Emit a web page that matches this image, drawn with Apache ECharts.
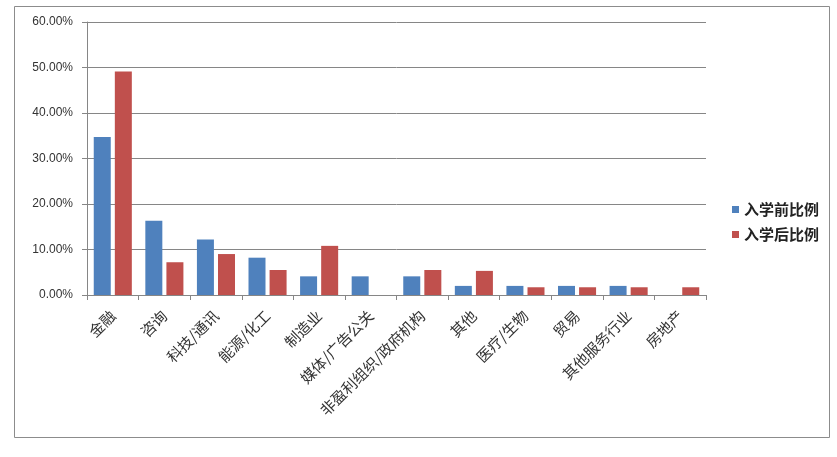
<!DOCTYPE html>
<html><head><meta charset="utf-8">
<script src="https://cdn.jsdelivr.net/npm/echarts@6/dist/echarts.min.js"></script>
<style>html,body{margin:0;padding:0;background:#fff}#c{width:837px;height:457px}</style>
</head><body><div id="c"></div>
<script>
const categories = ['金融','咨询','科技/通讯','能源/化工','制造业','媒体/广告公关','非盈利组织/政府机构','其他','医疗/生物','贸易','其他服务行业','房地产'];
const beforeValues = [34.7, 16.3, 12.2, 8.2, 4.1, 4.1, 4.1, 2.0, 2.0, 2.0, 2.0, 0];
const afterValues = [49.1, 7.2, 9.0, 5.5, 10.8, 0, 5.5, 5.3, 1.7, 1.7, 1.7, 1.7];
const seriesNames = ['入学前比例', '入学后比例'];
const yTicks = [0, 10, 20, 30, 40, 50, 60];

const chart = echarts.init(document.getElementById('c'));
const font = '"Noto Sans CJK SC", sans-serif';
chart.setOption({
  backgroundColor: '#fff',
  animation: false,
  graphic: [{
    type: 'rect', shape: {x: 14.5, y: 6.5, width: 815, height: 431},
    style: {fill: 'none', stroke: '#8c8c8c', lineWidth: 1}, silent: true
  }],
  grid: {left: 87, right: 131, top: 22, bottom: 162, containLabel: false},
  legend: {
    orient: 'vertical', right: 13, top: 197,
    itemWidth: 7, itemHeight: 7, itemGap: 10,
    icon: 'rect',
    textStyle: {fontFamily: font, fontSize: 15, fontWeight: 'bold', color: '#222'},
    data: seriesNames
  },
  xAxis: {
    type: 'category', data: categories,
    axisLine: {lineStyle: {color: '#868686'}},
    axisTick: {show: true, alignWithLabel: false, length: 5, lineStyle: {color: '#868686'}},
    axisLabel: {rotate: 45, interval: 0, fontFamily: font, fontSize: 15, color: '#333', margin: 18}
  },
  yAxis: {
    type: 'value', min: yTicks[0], max: yTicks[yTicks.length - 1], interval: 10,
    axisLine: {show: true, lineStyle: {color: '#868686'}},
    axisTick: {show: true, length: 5, lineStyle: {color: '#868686'}},
    splitLine: {lineStyle: {color: '#868686'}},
    axisLabel: {formatter: v => v.toFixed(2) + '%', fontFamily: 'Liberation Sans, Arial, sans-serif', fontSize: 12, color: '#333', margin: 14}
  },
  series: [
    {name: seriesNames[0], type: 'bar', data: beforeValues, barWidth: 17, barGap: '24%', itemStyle: {color: '#4F81BD'}},
    {name: seriesNames[1], type: 'bar', data: afterValues, barWidth: 17, itemStyle: {color: '#C0504D'}}
  ]
});
</script></body></html>
